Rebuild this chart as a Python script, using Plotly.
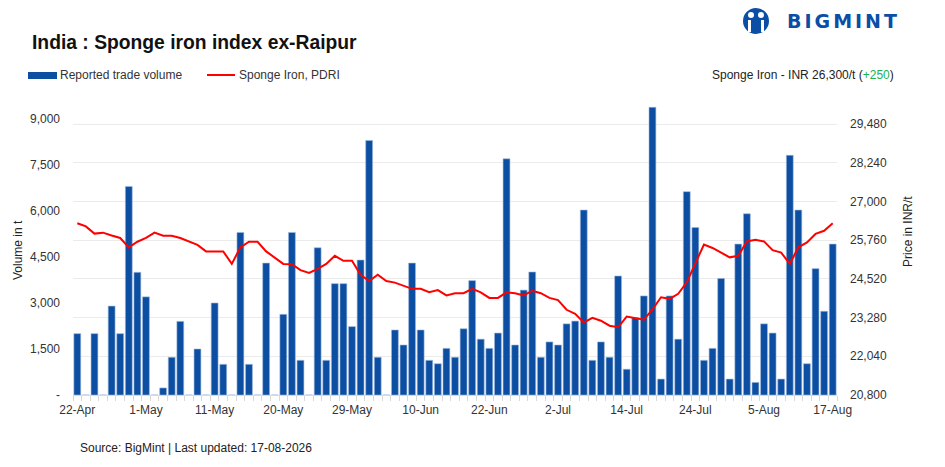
import plotly.graph_objects as go

# ---------------- data ----------------
tick_labels = ["22-Apr", "1-May", "11-May", "20-May", "29-May", "10-Jun",
               "22-Jun", "2-Jul", "14-Jul", "24-Jul", "5-Aug", "17-Aug"]
label_every = 8

volume = [2000, 0, 2000, 0, 2900, 2000, 6800, 4000, 3200, 0,
          230, 1230, 2400, 0, 1500, 0, 3000, 1000, 0, 5300,
          1000, 0, 4300, 0, 2630, 5300, 1130, 0, 4800, 1130,
          3630, 3630, 2230, 4400, 8300, 1230, 0, 2120, 1630, 4300,
          2120, 1130, 1020, 1520, 1230, 2160, 3730, 1820, 1520, 2020,
          7700, 1630, 3420, 4010, 1230, 1730, 1630, 2320, 2410, 6030,
          1130, 1730, 1230, 3880, 840, 2520, 3230, 9380, 520, 3230,
          1820, 6630, 5460, 1130, 1520, 3800, 520, 4920, 5910, 410,
          2320, 2020, 520, 7815, 6030, 1020, 4120, 2730, 4920]

price = [26300, 26200, 25970, 26000, 25910, 25830, 25530, 25710, 25830, 26000,
         25900, 25900, 25830, 25730, 25610, 25400, 25400, 25400, 25000, 25530,
         25710, 25710, 25400, 25190, 25000, 24990, 24800, 24710, 24840, 25000,
         25260, 25100, 25100, 24650, 24450, 24650, 24450, 24400, 24300, 24200,
         24200, 24090, 24160, 23990, 24060, 24060, 24200, 24090, 23910, 23910,
         24090, 24060, 23990, 24140, 24060, 23910, 23840, 23530, 23400, 23120,
         23270, 23180, 23020, 22970, 23310, 23270, 23210, 23540, 23930, 23880,
         24040, 24410, 25000, 25620, 25510, 25350, 25210, 25260, 25720, 25770,
         25720, 25440, 25360, 25000, 25530, 25690, 25960, 26060, 26300]

vol_ticks = [0, 1500, 3000, 4500, 6000, 7500, 9000]
vol_ticktext = ["-", "1,500", "3,000", "4,500", "6,000", "7,500", "9,000"]
price_ticks = [20800, 22040, 23280, 24520, 25760, 27000, 28240, 29480]

# ---------------- layout geometry ----------------
W, H = 945, 467
OFF = 8  # page body margin offset
L, R, T, B = 73 - OFF, 108 + OFF, 100 - OFF, 72 + OFF
PW, PH = W - L - R, H - T - B

def px(x):
    return (x - OFF - L) / PW

def py(y):
    return (H - B - (y - OFF)) / PH

n = len(volume)
xs = list(range(n))

BLUE = "#0b4ea2"
FONT = "Liberation Sans"
TXT = "#333333"

fig = go.Figure()
fig.add_trace(go.Bar(x=xs, y=volume, name="Reported trade volume",
                     marker=dict(color=BLUE, line=dict(color="#9fb8dc", width=0.6)),
                     yaxis="y"))
fig.add_trace(go.Scatter(x=xs, y=price, name="Sponge Iron, PDRI", mode="lines",
                         line=dict(color="#ff0000", width=2), yaxis="y2"))

fig.update_layout(
    width=W, height=H,
    margin=dict(l=L, r=R, t=T, b=B, autoexpand=False),
    paper_bgcolor="white", plot_bgcolor="white",
    showlegend=False, bargap=0.2,
    font=dict(family=FONT, size=12, color=TXT),
    xaxis=dict(range=[-0.5, n - 0.5], tickmode="array",
               tickvals=[i * label_every for i in range(len(tick_labels))],
               ticktext=tick_labels, ticks="", showgrid=False,
               showline=True, linecolor="#d9d9d9", linewidth=1,
               tickfont=dict(size=12, color=TXT), ticklabelstandoff=4,
               minor=dict(tickmode="linear", tick0=0.5, dtick=1, ticks="outside",
                          ticklen=5, tickcolor="#d9d9d9", showgrid=False),
               zeroline=False),
    yaxis=dict(range=[0, PH / 30.67 * 1000], tickmode="array", tickvals=vol_ticks,
               ticktext=vol_ticktext, showgrid=False, zeroline=False,
               tickfont=dict(size=12, color=TXT), ticklabelstandoff=12),
    yaxis2=dict(range=[20800, 20800 + PH / 38.71 * 1240], overlaying="y", side="right",
                tickmode="array", tickvals=price_ticks, tickformat=",d",
                showgrid=True, gridcolor="#ebebeb", gridwidth=1, zeroline=False,
                tickfont=dict(size=12, color=TXT), ticklabelstandoff=12),
)

ann = []
ann.append(dict(text="<b>India : Sponge iron index ex-Raipur</b>", x=px(30), y=py(43),
                xanchor="left", yanchor="middle", font=dict(size=19.3, color="#111111")))
ann.append(dict(text="Reported trade volume", x=px(58), y=py(75), xanchor="left",
                yanchor="middle", font=dict(size=12, color=TXT)))
ann.append(dict(text="Sponge Iron, PDRI", x=px(237), y=py(75), xanchor="left",
                yanchor="middle", font=dict(size=12, color=TXT)))
ann.append(dict(text="Sponge Iron - INR 26,300/t (<span style='color:#1db04b'>+250</span>)",
                x=px(896), y=py(75), xanchor="right", yanchor="middle",
                font=dict(size=12, color="#222222")))
ann.append(dict(text="Volume in t", x=px(18), y=py(250), textangle=-90,
                xanchor="center", yanchor="middle", font=dict(size=12, color="#222222")))
ann.append(dict(text="Price in INR/t", x=px(908), y=py(232), textangle=-90,
                xanchor="center", yanchor="middle", font=dict(size=12, color="#222222")))
ann.append(dict(text="Source: BigMint | Last updated: 17-08-2026", x=px(78), y=py(448),
                xanchor="left", yanchor="middle", font=dict(size=12, color="#222222")))
ann.append(dict(text="<b><span style='letter-spacing:3px'>BIGMINT</span></b>", x=px(785), y=py(21),
                xanchor="left", yanchor="middle",
                font=dict(size=19, color="#0a4ea6", family="DejaVu Sans")))
for a in ann:
    a.update(xref="paper", yref="paper", showarrow=False)
fig.update_layout(annotations=ann)

shapes = [
    dict(type="rect", x0=px(28), x1=px(57), y0=py(72), y1=py(79),
         fillcolor=BLUE, line=dict(width=0)),
    dict(type="line", x0=px(207), x1=px(235), y0=py(75), y1=py(75),
         line=dict(color="#ff0000", width=2)),
    # logo icon
    dict(type="circle", x0=px(743), x1=px(769), y0=py(8), y1=py(34),
         fillcolor="#0a4ea6", line=dict(width=0)),
    dict(type="circle", x0=px(748), x1=px(754), y0=py(12), y1=py(18),
         fillcolor="white", line=dict(width=0)),
    dict(type="circle", x0=px(758), x1=px(764), y0=py(12), y1=py(18),
         fillcolor="white", line=dict(width=0)),
    dict(type="rect", x0=px(748), x1=px(751), y0=py(20), y1=py(32),
         fillcolor="white", line=dict(width=0)),
    dict(type="rect", x0=px(761), x1=px(764), y0=py(20), y1=py(32),
         fillcolor="white", line=dict(width=0)),
]
for s in shapes:
    s.update(xref="paper", yref="paper")
fig.update_layout(shapes=shapes)

fig.write_html("out.html")
